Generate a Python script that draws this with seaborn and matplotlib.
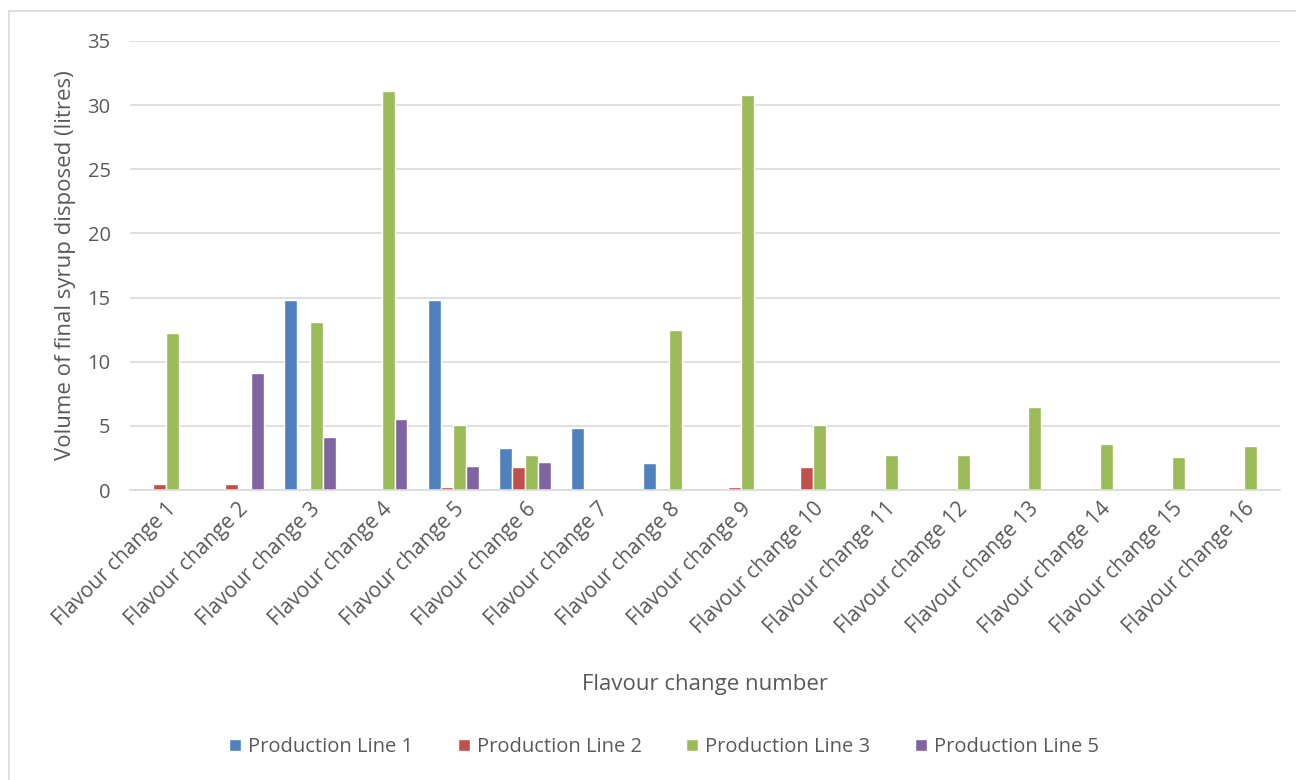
import numpy as np
import pandas as pd
import matplotlib
matplotlib.use('Agg')
import matplotlib.pyplot as plt
import seaborn as sns

# Data (litres); nan = no bar
categories = [f'Flavour change {i}' for i in range(1, 17)]
series = ['Production Line 1', 'Production Line 2', 'Production Line 3', 'Production Line 5']
nan = np.nan
line1 = [nan, nan, 14.8, nan, 14.8, 3.3, 4.8, 2.1, nan, nan, nan, nan, nan, nan, nan, nan]
line2 = [0.5, 0.5, nan, nan, 0.2, 1.8, nan, nan, 0.2, 1.8, nan, nan, nan, nan, nan, nan]
line3 = [12.2, nan, 13.1, 31.1, 5.1, 2.7, nan, 12.5, 30.8, 5.1, 2.7, 2.7, 6.5, 3.6, 2.6, 3.4]
line5 = [nan, 9.1, 4.1, 5.5, 1.9, 2.2, nan, nan, nan, nan, nan, nan, nan, nan, nan, nan]
colors = ['#4F81BD', '#C0504D', '#9BBB59', '#8064A2']

rows = []
for name, vals in zip(series, [line1, line2, line3, line5]):
    for c, v in zip(categories, vals):
        rows.append({'Flavour change': c, 'Line': name, 'Volume': v})
df = pd.DataFrame(rows)

sns.set_theme(style='white')
plt.rcParams['font.family'] = ['Open Sans', 'DejaVu Sans']
txt = '#595959'

fig = plt.figure(figsize=(12.96, 7.8), dpi=100)
ax = fig.add_axes([130/1296, 1-490/780, 1150/1296, 449/780])

sns.barplot(data=df, x='Flavour change', y='Volume', hue='Line',
            order=categories, hue_order=series, palette=colors, saturation=1,
            width=0.72, edgecolor='white', linewidth=1.0, ax=ax)

ax.set_ylim(0, 35)
ax.set_yticks(range(0, 36, 5))
ax.set_xlim(-0.5, len(categories) - 0.5)
ax.yaxis.grid(True, color='#D9D9D9', linewidth=1.2)
ax.set_axisbelow(True)
for s in ['top', 'right', 'left']:
    ax.spines[s].set_visible(False)
ax.spines['bottom'].set_color('#D9D9D9')
ax.spines['bottom'].set_linewidth(1.2)
ax.tick_params(axis='both', length=0, colors=txt, labelsize=14.5)
ax.tick_params(axis='x', labelsize=15, pad=6)
ax.tick_params(axis='y', pad=14)
plt.setp(ax.get_xticklabels(), rotation=45, ha='right', rotation_mode='anchor')

ax.set_xlabel('Flavour change number', fontsize=16, color=txt, labelpad=26)
ax.set_ylabel('Volume of final syrup disposed (litres)', fontsize=16, color=txt, labelpad=8)

ax.legend(loc='center', bbox_to_anchor=((664 - 130) / 1150, (747 - 490) / -449), ncol=4,
          frameon=False, fontsize=14.5, handlelength=0.6, handleheight=0.6,
          columnspacing=2.2, handletextpad=0.35, labelcolor=txt)

# light chart-area border (top and left visible like the reference)
fig.patches.append(plt.Rectangle((9/1296, -0.1), 1.2, 1-11/780+0.1, transform=fig.transFigure,
                                 fill=False, edgecolor='#D9D9D9', linewidth=1.2))

fig.savefig('out.png', dpi=100)
